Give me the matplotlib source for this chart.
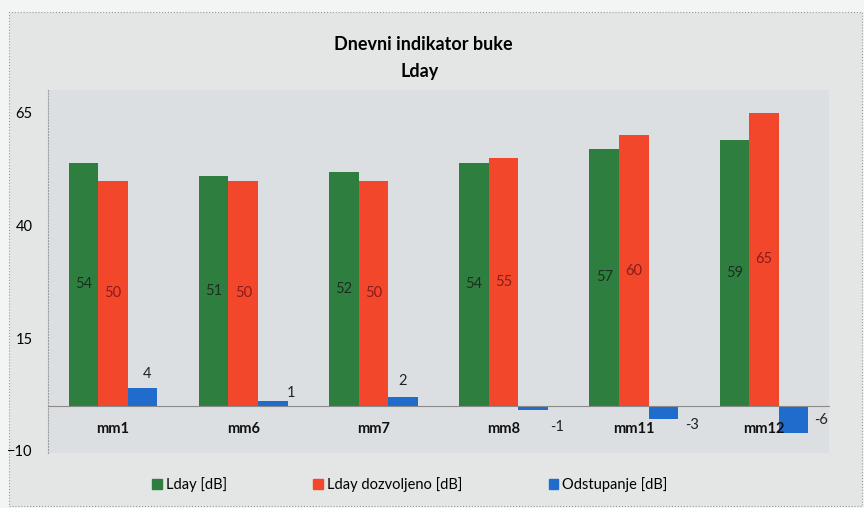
import matplotlib.pyplot as plt
from matplotlib.patches import Patch, Rectangle

plt.rcParams['font.family'] = ['Lato', 'DejaVu Sans']

mjesta = ['mm1', 'mm6', 'mm7', 'mm8', 'mm11', 'mm12']
lday = [54, 51, 52, 54, 57, 59]
lday_dozv = [50, 50, 50, 55, 60, 65]
odstupanje = [4, 1, 2, -1, -3, -6]

c_green = '#2e7f3f'
c_red = '#f2472b'
c_blue = '#1f6ccc'

fig = plt.figure(figsize=(8.64, 5.08), dpi=100, facecolor='#f3f4f4')
# okvir grafikona
fig.patches.append(Rectangle((9 / 864, 2 / 508), 853 / 864, 494 / 508, transform=fig.transFigure,
                             facecolor='#e4e6e6', edgecolor='#9a9a9a', lw=0.8, ls=':', zorder=-10))

ax = fig.add_axes([48 / 864, 55 / 508, 781 / 864, 363 / 508])
ax.set_zorder(1)
ax.set_facecolor('#dcdfe2')
ax.set_xlim(-0.5, 5.5)
ax.set_ylim(-10.5, 70.1)

# spine prvo - set_position resetira tickove
for s in ['top', 'right']:
    ax.spines[s].set_visible(False)
ax.spines['bottom'].set_position(('data', 0))
ax.spines['bottom'].set_color('#8a8a8a')
ax.spines['bottom'].set_linewidth(0.8)
ax.spines['left'].set_color('#a0a0a0')
ax.spines['left'].set_linestyle(':')
ax.spines['left'].set_linewidth(0.8)

w = 0.227
x = range(len(mjesta))
b1 = ax.bar([i - w for i in x], lday, w, color=c_green)
b2 = ax.bar(list(x), lday_dozv, w, color=c_red)
b3 = ax.bar([i + w for i in x], odstupanje, w, color=c_blue)

ax.bar_label(b1, label_type='center', fontsize=10.5, color='#1c2e1e')
ax.bar_label(b2, label_type='center', fontsize=10.5, color='#8a1c1c')

# pomaci oznaka za odstupanje (u tockama), kao na originalu
pomaci = [(3, 10), (13, 6), (0, 11), (17, -12), (21, -4), (20, 9)]
for i, v in enumerate(odstupanje):
    ax.annotate(str(v), (i + w, v), xytext=pomaci[i], textcoords='offset points',
                ha='center', va='center', fontsize=10.5, color='#222222')

ax.tick_params(axis='x', length=0, pad=12)
ax.tick_params(axis='y', length=0, pad=11, labelsize=10.5)
ax.set_xticks(list(x))
ax.set_xticklabels(mjesta, fontsize=10.5, fontweight='bold', color='#111111')
ax.set_yticks([-10, 15, 40, 65])

fig.text(423 / 864, 1 - 45 / 508, 'Dnevni indikator buke', ha='center', va='center',
         fontsize=13, fontweight='bold')
fig.text(420 / 864, 1 - 72 / 508, 'Lday', ha='center', va='center',
         fontsize=13, fontweight='bold')

handles = [Patch(color=c_green), Patch(color=c_red), Patch(color=c_blue)]
fig.legend(handles, ['Lday [dB]', 'Lday dozvoljeno [dB]', 'Odstupanje [dB]'],
           loc='center', bbox_to_anchor=(410 / 864, 1 - 485 / 508), ncol=3, frameon=False,
           fontsize=10.5, handlelength=0.65, handleheight=0.65, handletextpad=0.3,
           columnspacing=5.9)

fig.savefig('out.png', dpi=100, facecolor=fig.get_facecolor())
